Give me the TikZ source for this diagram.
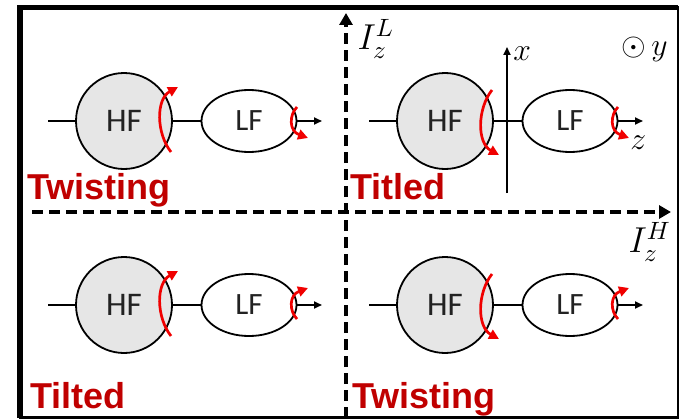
\documentclass[tikz,border=0pt]{standalone}
\usepackage{fontspec}
\setsansfont{Carlito}
\newfontfamily\arialb{Liberation Sans}
\usetikzlibrary{arrows.meta,shapes.geometric}
\definecolor{dred}{RGB}{192,0,0}
\definecolor{hfgray}{RGB}{230,230,230}
\definecolor{txtgray}{RGB}{34,34,34}
\definecolor{arcred}{RGB}{240,0,0}
\begin{document}
\begin{tikzpicture}[x=1pt,y=-1pt,
  wire/.style={line width=1.8pt, draw=black},
  hfnode/.style={circle, draw, line width=1.8pt, fill=hfgray, minimum size=96pt, inner sep=0pt, font=\fontsize{33}{36}\selectfont\sffamily, text=txtgray},
  lfnode/.style={ellipse, draw, line width=1.8pt, fill=white, minimum width=95pt, minimum height=62pt, inner sep=0pt, font=\fontsize{31}{34}\selectfont\sffamily, text=txtgray},
  rot/.style={draw=arcred, line width=2.7pt, -{Triangle[length=10pt,width=10pt]}},
  smallarrow/.style={line width=1.8pt, -{Triangle[length=8pt,width=7pt]}},
  lab/.style={font=\fontsize{36}{40}\selectfont\arialb\bfseries, text=dred, anchor=base west, inner sep=0pt},
  mlab/.style={font=\fontsize{14}{17}\selectfont, inner sep=0pt, scale=2.5},
  alab/.style={font=\fontsize{14}{17}\selectfont, inner sep=0pt, scale=2.2},
  axisline/.style={line width=3.5pt, dash pattern=on 11pt off 6pt, -{Triangle[length=12pt,width=13pt]}}
]
\useasboundingbox (0,0) rectangle (680,420);
% frame
\draw[line width=2.5pt] (20,7.5) rectangle (678,417.5);
\draw[line width=6pt] (20,417.5) -- (20,5);
\draw[line width=5pt] (17,7.5) -- (678,7.5);

% axes
\coordinate (hs) at (32,212);
\coordinate (he) at (671,212);
\coordinate (vs) at (346,418);
\coordinate (ve) at (346,13);
\draw[axisline] (hs) -- (he);
\draw[axisline] (vs) -- (ve);
\node[mlab, anchor=west] (IL) at (357,39) {$I_z^L$};
\node[mlab, anchor=west] (IH) at (628,242) {$I_z^H$};

% diagrams
\foreach \q/\hx/\cy/\sh/\sl in {a/124/121/-1/1, b/124/305/-1/-1, c/445/121/1/1, d/445/305/1/-1}{
  \pgfmathsetmacro{\lx}{\hx+125}
  \node[hfnode] (HF\q) at (\hx,\cy) {HF};
  \node[lfnode] (LF\q) at (\lx,\cy) {LF};
  \coordinate (S\q) at ({\hx-76},\cy);
  \coordinate (E\q) at ({\lx+73},\cy);
  \draw[wire] (S\q) -- (HF\q.west);
  \draw[wire] (HF\q.east) -- (LF\q.west);
  \draw[smallarrow] (LF\q.east) -- (E\q);
  \draw[rot] ({\hx+47},{\cy-31*\sh}) .. controls ({\hx+32},{\cy-12*\sh}) and ({\hx+32},{\cy+22*\sh}) .. ({\hx+54},{\cy+34*\sh});
  \draw[rot] ({\lx+48},{\cy-14*\sl}) .. controls ({\lx+40},{\cy-6*\sl}) and ({\lx+40},{\cy+10*\sl}) .. ({\lx+59},{\cy+17*\sl});
}

% x axis in top-right quadrant
\coordinate (xs) at (507,193);
\coordinate (xe) at (507,47);
\draw[smallarrow] (xs) -- (xe);
\node[alab, anchor=west] (xl) at (513,54) {$x$};
\node[alab, anchor=west] (zl) at (630,143) {$z$};
\node[alab, anchor=west] (yl) at (621,49) {$\odot\,y$};

% labels
\node[lab] (L1) at (27,199) {Twisting};
\node[lab] (L2) at (350,199) {Titled};
\node[lab] (L3) at (30,408) {Tilted};
\node[lab] (L4) at (352,408) {Twisting};
\end{tikzpicture}
\end{document}
